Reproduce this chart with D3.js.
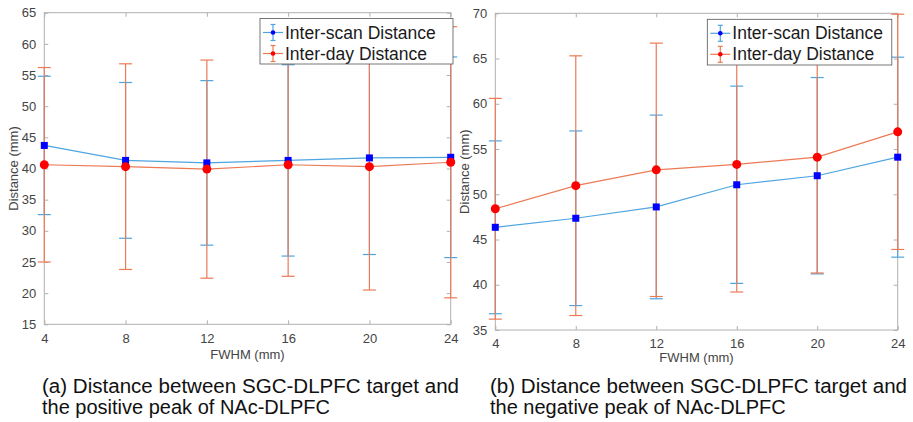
<!DOCTYPE html>
<html>
<head>
<meta charset="utf-8">
<script src="https://cdn.jsdelivr.net/npm/d3@7"></script>
<style>
  html, body { margin: 0; padding: 0; background: #fff; }
  svg { display: block; font-family: "Liberation Sans", Arial, Helvetica, sans-serif; }
</style>
</head>
<body>
<svg id="chart" width="913" height="422"></svg>
<script>
// ---------- data ----------
const fwhm = [4, 8, 12, 16, 20, 24];
const xTicks = [4, 8, 12, 16, 20, 24];

// panel (a)
const aScanMean = [43.7, 41.3, 40.9, 41.3, 41.7, 41.8];
const aScanErr  = [11.1, 12.5, 13.2, 15.35, 15.5, 16.1];
const aDayMean  = [40.6, 40.3, 39.9, 40.6, 40.3, 41.0];
const aDayErr   = [15.6, 16.5, 17.5, 17.9, 19.8, 21.75];
const aYTicks   = [15, 20, 25, 30, 35, 40, 45, 50, 55, 60, 65];

// panel (b)
const bScanMean = [46.35, 47.35, 48.6, 51.05, 52.05, 54.1];
const bScanErr  = [9.55, 9.65, 10.15, 10.9, 10.85, 11.05];
const bDayMean  = [48.4, 50.95, 52.7, 53.3, 54.1, 56.9];
const bDayErr   = [12.2, 14.35, 14.0, 14.1, 12.8, 13.0];
const bYTicks   = [35, 40, 45, 50, 55, 60, 65, 70];

const seriesNames = ["Inter-scan Distance", "Inter-day Distance"];
const captionA = ["(a) Distance between SGC-DLPFC target and", "the positive peak of NAc-DLPFC"];
const captionB = ["(b) Distance between SGC-DLPFC target and", "the negative peak of NAc-DLPFC"];
const xLabel = "FWHM (mm)";
const yLabel = "Distance (mm)";

// ---------- styles ----------
const scanLine = "#4ea5e0", scanMarker = "#0000ff";
const dayLine = "#ec7a55", dayMarker = "#ff0000";
const axisCol = "#b0b0b0", tickText = "#444";

const svg = d3.select("#chart");

function panel(cfg) {
  const x = d3.scaleLinear().domain([4, 24]).range([cfg.left, cfg.right]);
  const y = d3.scaleLinear().domain(cfg.yDomain).range([cfg.bottom, cfg.top]);
  const g = svg.append("g");

  // box
  g.append("rect").attr("x", cfg.left).attr("y", cfg.top)
    .attr("width", cfg.right - cfg.left).attr("height", cfg.bottom - cfg.top)
    .attr("fill", "none").attr("stroke", axisCol).attr("stroke-width", 1);

  // axes with inward ticks
  const tl = 4;
  const axB = g.append("g").attr("transform", `translate(0,${cfg.bottom})`)
    .call(d3.axisBottom(x).tickValues(xTicks).tickSizeInner(-tl).tickSizeOuter(0).tickPadding(9).tickFormat(d3.format("d")));
  const axT = g.append("g").attr("transform", `translate(0,${cfg.top})`)
    .call(d3.axisTop(x).tickValues(xTicks).tickSizeInner(-tl).tickSizeOuter(0).tickFormat(""));
  const axL = g.append("g").attr("transform", `translate(${cfg.left},0)`)
    .call(d3.axisLeft(y).tickValues(cfg.yTicks).tickSizeInner(-tl).tickSizeOuter(0).tickPadding(8).tickFormat(d3.format("d")));
  const axR = g.append("g").attr("transform", `translate(${cfg.right},0)`)
    .call(d3.axisRight(y).tickValues(cfg.yTicks).tickSizeInner(-tl).tickSizeOuter(0).tickFormat(""));
  [axB, axT, axL, axR].forEach(a => {
    a.select(".domain").remove();
    a.selectAll(".tick line").attr("stroke", axisCol);
    a.selectAll(".tick text").attr("fill", tickText).style("font-size", "13px")
      .style("font-family", "'Liberation Sans', Arial, sans-serif");
  });

  // axis labels
  g.append("text").attr("x", (cfg.left + cfg.right) / 2).attr("y", cfg.bottom + cfg.xLabelDy)
    .attr("text-anchor", "middle").attr("fill", tickText).style("font-size", "13px").text(xLabel);
  g.append("text").attr("transform", `translate(${cfg.yLabelX},${(cfg.top + cfg.bottom) / 2}) rotate(-90)`)
    .attr("text-anchor", "middle").attr("fill", tickText).style("font-size", "13px").text(yLabel);

  const series = [
    { mean: cfg.scanMean, err: cfg.scanErr, line: scanLine, marker: scanMarker, shape: "square" },
    { mean: cfg.dayMean, err: cfg.dayErr, line: dayLine, marker: dayMarker, shape: "circle" }
  ];
  const cap = 6.5;
  // error bars
  series.forEach(s => {
    const eb = g.append("g");
    fwhm.forEach((f, i) => {
      const cx = x(f), y1 = y(s.mean[i] + s.err[i]), y0 = y(s.mean[i] - s.err[i]);
      eb.append("line").attr("x1", cx).attr("x2", cx).attr("y1", y1).attr("y2", y0)
        .attr("stroke", s.line).attr("stroke-width", 1.2);
      [y1, y0].forEach(yy => eb.append("line").attr("x1", cx - cap).attr("x2", cx + cap)
        .attr("y1", yy).attr("y2", yy).attr("stroke", s.line).attr("stroke-width", 1.2));
    });
  });
  // lines
  series.forEach(s => {
    g.append("path").datum(fwhm.map((f, i) => [f, s.mean[i]]))
      .attr("d", d3.line().x(d => x(d[0])).y(d => y(d[1])))
      .attr("fill", "none").attr("stroke", s.line).attr("stroke-width", 1.2);
  });
  // markers
  series.forEach(s => {
    fwhm.forEach((f, i) => {
      if (s.shape === "square") {
        g.append("rect").attr("x", x(f) - 3.5).attr("y", y(s.mean[i]) - 3.5)
          .attr("width", 7).attr("height", 7).attr("fill", s.marker);
      } else {
        g.append("circle").attr("cx", x(f)).attr("cy", y(s.mean[i])).attr("r", 4.5).attr("fill", s.marker);
      }
    });
  });

  // legend
  const L = cfg.legend;
  const lg = g.append("g");
  lg.append("rect").attr("x", L.x).attr("y", L.y).attr("width", L.w).attr("height", L.h)
    .attr("fill", "#fff").attr("stroke", "#555").attr("stroke-width", 0.8);
  series.forEach((s, k) => {
    const cy = L.y + 14 + k * 21;
    const sx0 = L.x + 3, sx1 = L.x + 23, mx = (sx0 + sx1) / 2;
    lg.append("line").attr("x1", sx0).attr("x2", sx1).attr("y1", cy).attr("y2", cy)
      .attr("stroke", s.line).attr("stroke-width", 1.2);
    lg.append("line").attr("x1", mx).attr("x2", mx).attr("y1", cy - 8).attr("y2", cy + 8)
      .attr("stroke", s.line).attr("stroke-width", 1.2);
    [cy - 8, cy + 8].forEach(yy => lg.append("line").attr("x1", mx - 2.5).attr("x2", mx + 2.5)
      .attr("y1", yy).attr("y2", yy).attr("stroke", s.line).attr("stroke-width", 1.2));
    lg.append("circle").attr("cx", mx).attr("cy", cy).attr("r", 2.3).attr("fill", s.marker);
    lg.append("text").attr("x", L.x + 25).attr("y", cy + 6).attr("fill", "#1a1a1a")
      .style("font-size", "17.5px").text(seriesNames[k]);
  });

  // caption
  cfg.caption.forEach((t, k) => {
    svg.append("text").attr("x", cfg.capX).attr("y", 393 + k * 21).attr("fill", "#111")
      .style("font-size", "20px").attr("textLength", k === 0 ? 417 : null)
      .attr("lengthAdjust", "spacingAndGlyphs").text(t);
  });
}

panel({
  left: 44.3, right: 450.7, top: 12.7, bottom: 324.3, yDomain: [15, 65], yTicks: aYTicks,
  scanMean: aScanMean, scanErr: aScanErr, dayMean: aDayMean, dayErr: aDayErr,
  yLabelX: 18, xLabelDy: 35, legend: { x: 260, y: 18.5, w: 193, h: 45.5 },
  caption: captionA, capX: 42
});
panel({
  left: 495.3, right: 897.7, top: 13.3, bottom: 330, yDomain: [35, 70], yTicks: bYTicks,
  scanMean: bScanMean, scanErr: bScanErr, dayMean: bDayMean, dayErr: bDayErr,
  yLabelX: 469, xLabelDy: 32, legend: { x: 707.3, y: 19.3, w: 184.5, h: 45.7 },
  caption: captionB, capX: 490
});
</script>
</body>
</html>
